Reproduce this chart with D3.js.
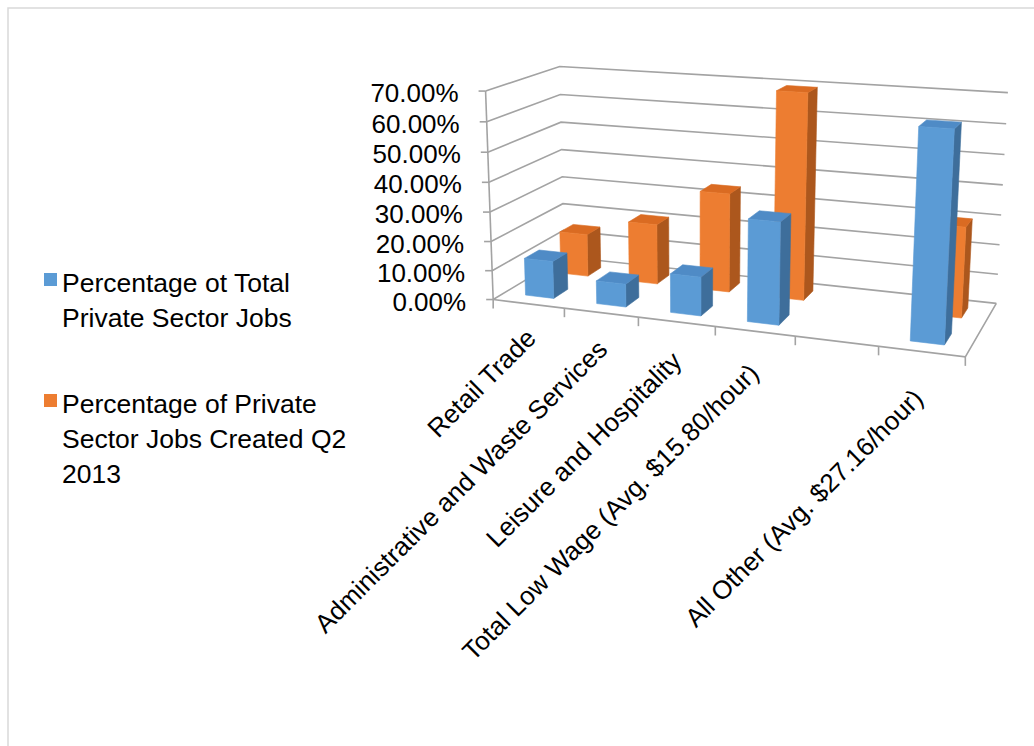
<!DOCTYPE html>
<html><head><meta charset="utf-8">
<script src="https://cdn.jsdelivr.net/npm/d3@7"></script>
<style>
body{margin:0;background:#fff}
svg{display:block}
text{font-family:"Liberation Sans",Arial,sans-serif;fill:#000}
</style>
</head><body>
<svg id="c" width="1034" height="746"></svg>
<script>
// ---------- data ----------
const categories = ["Retail Trade", "Administrative and Waste Services", "Leisure and Hospitality",
  "Total Low Wage (Avg. $15.80/hour)", "", "All Other (Avg. $27.16/hour)"];
const seriesNames = ["Percentage ot Total Private Sector Jobs", "Percentage of Private Sector Jobs Created Q2 2013"];
const totalJobsShare = [0.128, 0.078, 0.130, 0.336, null, 0.664];
const createdQ2Share = [0.150, 0.210, 0.340, 0.695, null, 0.300];
const yTicks = [0, 0.1, 0.2, 0.3, 0.4, 0.5, 0.6, 0.7];
const legendLines = [["Percentage ot Total", "Private Sector Jobs"],
                     ["Percentage of Private", "Sector Jobs Created Q2", "2013"]];

// ---------- style ----------
const faceColors = [
  {front: "#5b9bd5", top: "#4f8bc6", side: "#3e6e9b"},
  {front: "#ed7d31", top: "#da6b22", side: "#ac571d"}
];
const gridColor = "#a3a3a3";

// ---------- perspective frame (layout anchors: model (u,w,v) -> screen) ----------
const frameAnchors = [
  [0,0,1,484,91],[0,0,0,495,298],[0,1,1,560,67],[0,1,0,562,258],
  [1,1,1,1008,93],[1,1,0,997,302],[1,0,0,965,357],
  [1/6,0,0,564,308],[2/6,0,0,638,317],[3/6,0,0,716,327],[4/6,0,0,796,337],[5/6,0,0,878,347],
  [0,1,6/7,561,94],[0,1,5/7,562,122],[1,1,6/7,1007,123],[1,1,5/7,1003,155]
];

function fitProjection(anc){
  const cx = 700, cy = 200, s = 300, n = 11;
  const M = Array.from({length:n}, () => new Array(n).fill(0));
  const r = new Array(n).fill(0);
  for (const [X,Y,Z,px,py] of anc){
    const x = (px-cx)/s, y = (py-cy)/s;
    const rows = [[X,Y,Z,1,0,0,0,0,-x*X,-x*Y,-x*Z,x],[0,0,0,0,X,Y,Z,1,-y*X,-y*Y,-y*Z,y]];
    for (const row of rows){
      for (let i=0;i<n;i++){ r[i] += row[i]*row[n]; for (let j=0;j<n;j++) M[i][j] += row[i]*row[j]; }
    }
  }
  for (let c=0;c<n;c++){
    let piv = c;
    for (let k=c+1;k<n;k++) if (Math.abs(M[k][c])>Math.abs(M[piv][c])) piv=k;
    [M[c],M[piv]]=[M[piv],M[c]]; [r[c],r[piv]]=[r[piv],r[c]];
    for (let k=0;k<n;k++){
      if (k===c) continue;
      const f = M[k][c]/M[c][c];
      for (let j=c;j<n;j++) M[k][j] -= f*M[c][j];
      r[k] -= f*r[c];
    }
  }
  const p = r.map((v,i)=>v/M[i][i]);
  return (u,w,v) => {
    const d = p[8]*u + p[9]*w + p[10]*v + 1;
    return [(p[0]*u+p[1]*w+p[2]*v+p[3])/d*s+cx, (p[4]*u+p[5]*w+p[6]*v+p[7])/d*s+cy];
  };
}
const proj = fitProjection(frameAnchors);

// ---------- scales ----------
const uBand = d3.scaleBand().domain(d3.range(categories.length)).range([0,1]).paddingInner(0.6).paddingOuter(0.3);
const uAxis = d3.scaleLinear().domain([0, categories.length]).range([0,1]);
const wBand = d3.scaleBand().domain([0,1]).range([0,1]).paddingInner(0.6).paddingOuter(0.3);
const vScale = d3.scaleLinear().domain([0, 0.7]).range([0,1]);
const fmt = d3.format(".2%");

const svg = d3.select("#c");
const line = d3.line();

// border
svg.append("path").attr("d", line([[8,746],[8,8],[1034,8]]))
  .attr("fill","none").attr("stroke","#d9d9d9").attr("stroke-width",1.5);

// walls gridlines
const grid = svg.append("g").attr("fill","none").attr("stroke",gridColor).attr("stroke-width",1.6);
yTicks.forEach(t => {
  const v = vScale(t);
  grid.append("path").attr("d", line([proj(0,0,v), proj(0,1,v), proj(1,1,v)]));
});
// floor
grid.append("path").attr("d", line([proj(0,0,0), proj(1,0,0), proj(1,1,0)]));
// value axis
grid.append("path").attr("d", line([proj(0,0,0), proj(0,0,1)]));
yTicks.forEach(t => {
  const [x,y] = proj(0,0,vScale(t));
  grid.append("path").attr("d", line([[x-7,y],[x,y]]));
});
d3.range(categories.length+1).forEach(i => {
  const [x,y] = proj(uAxis(i),0,0);
  grid.append("path").attr("d", line([[x,y],[x,y+9]]));
});

// value labels
svg.append("g").selectAll("text").data(yTicks).join("text")
  .attr("x", t => proj(0,0,vScale(t))[0]-27)
  .attr("y", t => proj(0,0,vScale(t))[1]+2)
  .attr("text-anchor","end").attr("dominant-baseline","central")
  .attr("font-size",26).text(t => fmt(t));

// category labels
svg.append("g").selectAll("text").data(categories.map((c,i)=>({c,i})).filter(d=>d.c!==""))
  .join("text")
  .attr("transform", d => {
    const [x,y] = proj(uAxis(d.i+0.5),0,0);
    return `translate(${x+9-1.2*d.i},${y+36+2.5*d.i}) rotate(-45)`;
  })
  .attr("text-anchor","end").attr("font-size",26).text(d => d.c);

// bars
const bars = [];
[createdQ2Share, totalJobsShare].forEach((vals, k) => {
  const s = k===0 ? 1 : 0;
  vals.forEach((val, i) => { if (val!=null) bars.push({s, i, val}); });
});
const barG = svg.append("g");
bars.forEach(b => {
  const u0 = uBand(b.i), u1 = u0 + uBand.bandwidth();
  const w0 = wBand(b.s), w1 = w0 + wBand.bandwidth();
  const h = vScale(b.val);
  const col = faceColors[b.s];
  const faces = [
    {pts:[[u1,w0,0],[u1,w1,0],[u1,w1,h],[u1,w0,h]], c: col.side},
    {pts:[[u0,w0,h],[u1,w0,h],[u1,w1,h],[u0,w1,h]], c: col.top},
    {pts:[[u0,w0,0],[u1,w0,0],[u1,w0,h],[u0,w0,h]], c: col.front}
  ];
  faces.forEach(f => {
    barG.append("path").attr("d", line(f.pts.map(p=>proj(...p)))+"Z")
      .attr("fill", f.c).attr("stroke", f.c).attr("stroke-width",0.6).attr("stroke-linejoin","round");
  });
});

// legend
const legY = [292, 413];
const leg = svg.append("g");
legendLines.forEach((lines, k) => {
  leg.append("rect").attr("x",44).attr("y",legY[k]-19).attr("width",13).attr("height",13).attr("fill",faceColors[k].front);
  lines.forEach((ln, j) => {
    leg.append("text").attr("x",62).attr("y",legY[k]+j*35).attr("font-size",26.5).text(ln);
  });
});
</script>
</body></html>
